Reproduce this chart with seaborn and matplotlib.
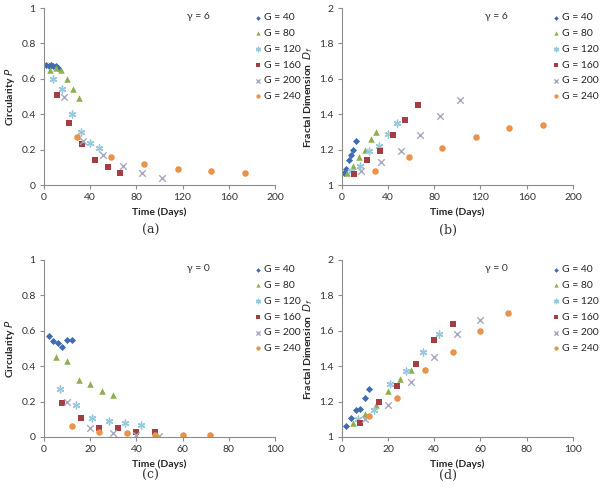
import numpy as np
import seaborn as sns
import matplotlib.pyplot as plt
from matplotlib.ticker import FuncFormatter

sns.set_style("white")
plt.rcParams['font.family'] = ['Lato', 'DejaVu Sans']

labels = ["G = 40", "G = 80", "G = 120", "G = 160", "G = 200", "G = 240"]
colors = ["#3F6CB0", "#8FAE4E", "#98C8DC", "#A53E42", "#A8A8C0", "#E8924A"]
markers = ["D", "^", (6, 2, 0), "s", "x", "o"]
sizes = [13, 22, 24, 24, 22, 22]

# (a) gamma = 6, circularity
a_x = [[2, 4, 6, 8, 10, 12], [5, 10, 15, 20, 25, 30], [8, 16, 24, 32, 40, 48],
       [11, 22, 33, 44, 55, 66], [17, 34, 51, 68, 85, 102], [29, 58, 87, 116, 145, 174]]
a_y = [[0.68, 0.67, 0.68, 0.67, 0.67, 0.66], [0.65, 0.66, 0.65, 0.60, 0.54, 0.49],
       [0.60, 0.54, 0.40, 0.30, 0.24, 0.21], [0.51, 0.35, 0.23, 0.14, 0.10, 0.07],
       [0.50, 0.25, 0.17, 0.11, 0.07, 0.04], [0.27, 0.16, 0.12, 0.09, 0.08, 0.07]]

# (b) gamma = 6, fractal dimension
b_x = a_x
b_y = [[1.07, 1.09, 1.14, 1.17, 1.20, 1.25], [1.07, 1.11, 1.16, 1.20, 1.26, 1.30],
       [1.08, 1.11, 1.19, 1.22, 1.29, 1.35], [1.06, 1.14, 1.19, 1.28, 1.37, 1.45],
       [1.08, 1.13, 1.19, 1.28, 1.39, 1.48], [1.08, 1.16, 1.21, 1.27, 1.32, 1.34]]

# (c) gamma = 0, circularity
c_x = [[2, 4, 6, 8, 10, 12], [5, 10, 15, 20, 25, 30], [7, 14, 21, 28, 35, 42],
       [8, 16, 24, 32, 40, 48], [10, 20, 30, 40, 50], [12, 24, 36, 48, 60, 72]]
c_y = [[0.57, 0.54, 0.53, 0.51, 0.55, 0.55], [0.45, 0.43, 0.32, 0.30, 0.26, 0.24],
       [0.27, 0.18, 0.11, 0.09, 0.08, 0.07], [0.19, 0.11, 0.05, 0.05, 0.03, 0.03],
       [0.20, 0.05, 0.02, 0.01, 0.004], [0.06, 0.03, 0.02, 0.01, 0.01, 0.01]]

# (d) gamma = 0, fractal dimension
d_x = [[2, 4, 6, 8, 10, 12], [5, 10, 15, 20, 25, 30], [7, 14, 21, 28, 35, 42],
       [8, 16, 24, 32, 40, 48], [10, 20, 30, 40, 50, 60], [12, 24, 36, 48, 60, 72]]
d_y = [[1.06, 1.11, 1.15, 1.16, 1.22, 1.27], [1.08, 1.13, 1.18, 1.26, 1.33, 1.38],
       [1.10, 1.15, 1.30, 1.37, 1.48, 1.58], [1.08, 1.20, 1.29, 1.41, 1.55, 1.64],
       [1.10, 1.18, 1.31, 1.45, 1.58, 1.66], [1.12, 1.22, 1.38, 1.48, 1.60, 1.70]]

# data, axes box, x range, y range, y label, gamma text, caption, caption y
panels = [
    (a_x, a_y, [0.0733, 0.6232, 0.385, 0.3605], (0, 200, 40), (0, 1), "Circularity $P$", "\u03b3 = 6", "(a)", 0.531),
    (b_x, b_y, [0.5695, 0.6232, 0.3855, 0.3605], (0, 200, 40), (1, 2), "Fractal Dimension  $D_f$", "\u03b3 = 6", "(b)", 0.531),
    (c_x, c_y, [0.0733, 0.110, 0.385, 0.3605], (0, 100, 20), (0, 1), "Circularity $P$", "\u03b3 = 0", "(c)", 0.031),
    (d_x, d_y, [0.5695, 0.110, 0.3855, 0.3605], (0, 100, 20), (1, 2), "Fractal Dimension  $D_f$", "\u03b3 = 0", "(d)", 0.031),
]

fig = plt.figure(figsize=(6, 4.91), dpi=100)

for xs, ys, pos, xr, yr, ylab, gam, cap, cy in panels:
    ax = fig.add_axes(pos)
    for i in range(6):
        m = markers[i]
        kw = dict(edgecolor=colors[i], linewidth=0) if m in ("D", "^", "s", "o") else dict(linewidth=1.0)
        sns.scatterplot(x=xs[i], y=ys[i], ax=ax, color=colors[i], marker=m, s=sizes[i],
                        label=labels[i], **kw)
    ax.set_xlim(xr[0], xr[1])
    ax.set_ylim(*yr)
    ax.set_xticks(np.arange(xr[0], xr[1] + 1, xr[2]))
    ax.set_yticks(np.linspace(yr[0], yr[1], 6))
    ax.yaxis.set_major_formatter(FuncFormatter(lambda v, p: "%g" % round(v, 2)))
    for s in ["top", "right"]:
        ax.spines[s].set_visible(False)
    for s in ["left", "bottom"]:
        ax.spines[s].set_color("#8C8C8C")
        ax.spines[s].set_linewidth(0.8)
    ax.tick_params(direction="out", length=3, width=0.8, color="#8C8C8C",
                   labelsize=7.5, labelcolor="#333333", pad=3, bottom=True, left=True)
    ax.set_xlabel("Time (Days)", fontsize=7.5, fontweight="bold", labelpad=4)
    ax.set_ylabel(ylab, fontsize=7.5, fontweight="bold", labelpad=3)
    ax.text(0.62, 0.95, gam, transform=ax.transAxes, fontsize=7.5, color="#333333", va="center")
    ax.legend(loc="upper left", bbox_to_anchor=(0.885, 0.995), frameon=False, fontsize=7.5,
              handletextpad=0.1, labelspacing=0.62, markerscale=0.65, handlelength=1.0,
              borderaxespad=0)
    x0 = pos[0] + pos[2] / 2 - 0.015
    fig.text(x0, cy, cap, ha="center", va="center", fontsize=9,
             family="DejaVu Serif", color="#333333")

fig.savefig("out.png", dpi=100)
